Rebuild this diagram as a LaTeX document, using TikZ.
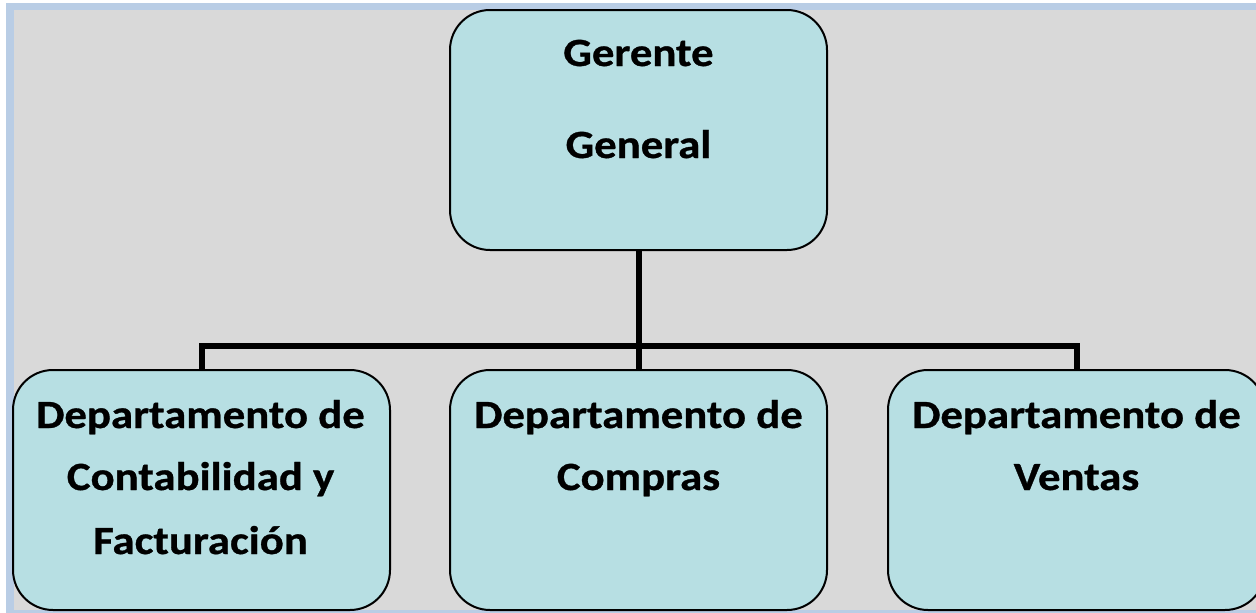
\documentclass[tikz,border=0pt]{standalone}
\usepackage{fontspec}
\setmainfont{Carlito}[FakeStretch=1.12, BoldFeatures={FakeBold=0.8}]
\definecolor{bandblue}{HTML}{B9CDE5}
\definecolor{bggray}{HTML}{D9D9D9}
\definecolor{boxfill}{HTML}{B7DFE3}
\tikzset{
  orgbox/.style={draw=black, line width=2pt, fill=boxfill, rounded corners=40pt,
    minimum width=377pt, minimum height=240pt, inner sep=0pt, outer sep=0pt, anchor=north west},
  lbl/.style={anchor=base, inner sep=0pt, font=\fontsize{40}{44}\selectfont\bfseries},
  conn/.style={draw=black, line width=6pt, line join=miter, line cap=butt}
}
\begin{document}
\begin{tikzpicture}[x=1pt,y=-1pt]
\useasboundingbox (0,0) rectangle (1256,613);
\clip (0,0) rectangle (1256,613);
\fill[white] (0,0) rectangle (1256,613);
\fill[bandblue] (6,3) rectangle (1260,616);
\fill[bggray] (14,10) rectangle (1260,610);
% boxes
\node[orgbox] (top) at (450,10) {};
\node[orgbox] (left) at (13,370) {};
\node[orgbox] (mid) at (450,370) {};
\node[orgbox] (right) at (888,370) {};
% connectors
\coordinate (bus) at (638.5,346);
\draw[conn] (top.south) -- (top.south |- bus);
\draw[conn] (left.north) |- (bus) -| (right.north);
\draw[conn] (bus) -- (mid.north);
% labels
\node[lbl] (t1) at (638.5,66) {Gerente};
\node[lbl] (t2) at (638.5,158) {General};
\node[lbl] (l1) at (200.5,428) {Departamento de};
\node[lbl] (l2) at (200.5,490) {Contabilidad y};
\node[lbl] (l3) at (200.5,554) {Facturación};
\node[lbl] (m1) at (638.5,428) {Departamento de};
\node[lbl] (m2) at (638.5,490) {Compras};
\node[lbl] (r1) at (1076.5,428) {Departamento de};
\node[lbl] (r2) at (1076.5,490) {Ventas};
\end{tikzpicture}
\end{document}
